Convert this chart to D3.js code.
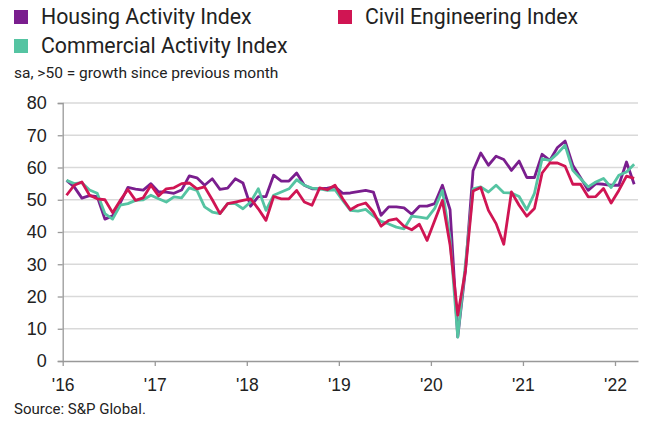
<!DOCTYPE html>
<html>
<head>
<meta charset="utf-8">
<script src="https://cdn.jsdelivr.net/npm/d3@7"></script>
<style>
  body { margin: 0; background: #fff; }
  text { fill: #222; }
</style>
</head>
<body>
<svg width="650" height="427"></svg>
<script>
// monthly index values, Jan 2016 - Mar 2022
const yearLabels = ["'16", "'17", "'18", "'19", "'20", "'21", "'22"];
const yTicks = [0, 10, 20, 30, 40, 50, 60, 70, 80];

const housing = [
  56, 54, 50.5, 51.3, 51, 44, 45, 49, 53.8, 53.3, 53, 55,
  52.4, 52.4, 52, 53, 57.4, 56.8, 54.5, 56.5, 53.2, 53.6, 56.5, 55.2,
  48, 51, 51, 57.6, 55.8, 55.8, 58.3, 54.5, 53.4, 53.4, 53.6, 54,
  52, 52.1, 52.5, 52.9, 52.4, 45.2, 47.8, 47.8, 47.5, 45.5, 48, 48,
  48.8, 54.5, 46.9, 7.5, 28, 59, 64.5, 60.7, 63.5, 62.5, 59.1, 62,
  56.9, 56.9, 64.1, 62.2, 66.2, 68.2, 60.7, 56.9, 52.9, 55, 54.8, 54.5,
  54.5, 61.7, 54.8
];
const commercial = [
  56, 55, 55.3, 53, 52, 45.7, 44, 48.3, 48.8, 49.8, 50, 51.4,
  50.3, 49.3, 50.9, 50.6, 53.7, 52.9, 47.8, 46.2, 45.7, 48.8, 48.8, 47.2,
  49.3, 53.4, 46.7, 51.4, 52.4, 53.4, 56.2, 54.5, 53.6, 53.4, 52.9, 53.1,
  49.8, 46.7, 46.5, 47, 45, 43.3, 42.5, 41.5, 41, 44.9, 44.6, 44.2,
  47.3, 52.9, 38, 7.4, 30, 53.4, 54, 52.4, 54.5, 52.2, 52.1, 51,
  46.9, 52, 62.7, 62.2, 64.3, 66.9, 59.1, 56.6, 54, 55.5, 56.6, 53.8,
  57.6, 58.6, 61
];
const civil = [
  51.4, 54.5, 55.5, 51.4, 50.3, 50, 46, 49.8, 53.2, 49.8, 50.6, 54.5,
  51.2, 53.4, 53.7, 55, 55.2, 53.4, 54, 50, 45.7, 48.8, 49.3, 49.8,
  50.3, 47.2, 43.6, 51, 50.3, 50.3, 52.9, 49.3, 48.3, 53.7, 53.1, 54.5,
  50.3, 46.9, 48.3, 49, 46.2, 41.8, 43.6, 44.1, 41.8, 40.7, 42.4, 37.4,
  43.6, 49.8, 36, 14.2, 28, 52.7, 53.8, 46.7, 42.6, 36.2, 52.4, 48.3,
  44.9, 47.3, 58.3, 61.4, 61.4, 60.4, 54.8, 54.8, 50.9, 51, 53.5, 49,
  52.9, 57.3, 56.6
];

const series = [
  { name: "Housing Activity Index", values: housing, color: "#7a1e8e" },
  { name: "Commercial Activity Index", values: commercial, color: "#55c4a2" },
  { name: "Civil Engineering Index", values: civil, color: "#d01553" }
];

const svg = d3.select("svg");
const plotLeft = 62.7, plotRight = 638, plotTop = 103, plotBottom = 361;

const x = d3.scaleLinear().domain([0, 75]).range([plotLeft, plotRight]);
const y = d3.scaleLinear().domain([0, 80]).range([plotBottom, plotTop]);

// gridlines
svg.append("g")
  .selectAll("line")
  .data(yTicks.slice(1))
  .join("line")
  .attr("x1", plotLeft).attr("x2", plotRight)
  .attr("y1", d => y(d)).attr("y2", d => y(d))
  .attr("stroke", "#d9d9d9")
  .attr("stroke-width", 1.3);

// y axis
const yAxis = svg.append("g")
  .attr("transform", `translate(${plotLeft},0)`)
  .call(d3.axisLeft(y).tickValues(yTicks).tickSize(5).tickPadding(11));
yAxis.select(".domain").attr("stroke", "#999").attr("stroke-width", 1.3);
yAxis.selectAll(".tick line").attr("stroke", "#999").attr("stroke-width", 1.3);
yAxis.selectAll("text")
  .attr("font-family", "Liberation Sans, Arial, sans-serif")
  .attr("font-size", 18)
  .style("fill", "#222");

// x axis
const xAxis = svg.append("g")
  .attr("transform", `translate(0,${plotBottom})`)
  .call(d3.axisBottom(x)
    .tickValues(yearLabels.map((d, i) => i * 12))
    .tickFormat((d, i) => yearLabels[i])
    .tickSize(5)
    .tickSizeOuter(0)
    .tickPadding(13));
xAxis.select(".domain").attr("stroke", "#999").attr("stroke-width", 1.3);
xAxis.selectAll(".tick line").attr("stroke", "#999").attr("stroke-width", 1.3);
xAxis.selectAll("text")
  .attr("font-family", "Liberation Sans, Arial, sans-serif")
  .attr("font-size", 17.5)
  .style("fill", "#222");

// lines
const line = d3.line()
  .x((d, i) => x(i + 0.5))
  .y(d => y(d))
  .curve(d3.curveLinear);

svg.append("g")
  .selectAll("path")
  .data(series)
  .join("path")
  .attr("d", d => line(d.values))
  .attr("fill", "none")
  .attr("stroke", d => d.color)
  .attr("stroke-width", 2.8)
  .attr("stroke-linejoin", "round");

// legend
const legendPos = [
  { x: 14, y: 24 },
  { x: 14, y: 53 },
  { x: 338, y: 24 }
];
const legend = svg.append("g")
  .selectAll("g")
  .data(series)
  .join("g")
  .attr("transform", (d, i) => `translate(${legendPos[i].x},${legendPos[i].y})`);
legend.append("rect")
  .attr("x", 0).attr("y", -14)
  .attr("width", 14).attr("height", 14)
  .attr("fill", d => d.color);
legend.append("text")
  .attr("x", 27).attr("y", 0)
  .attr("font-family", "Roboto, sans-serif")
  .attr("font-size", 21.3)
  .text(d => d.name);

svg.append("text")
  .attr("x", 14).attr("y", 78)
  .attr("font-family", "Roboto, sans-serif")
  .attr("font-size", 15.5)
  .text("sa, >50 = growth since previous month");

svg.append("text")
  .attr("x", 14).attr("y", 414)
  .attr("font-family", "Roboto, sans-serif")
  .attr("font-size", 15)
  .text("Source: S&P Global.");
</script>
</body>
</html>
